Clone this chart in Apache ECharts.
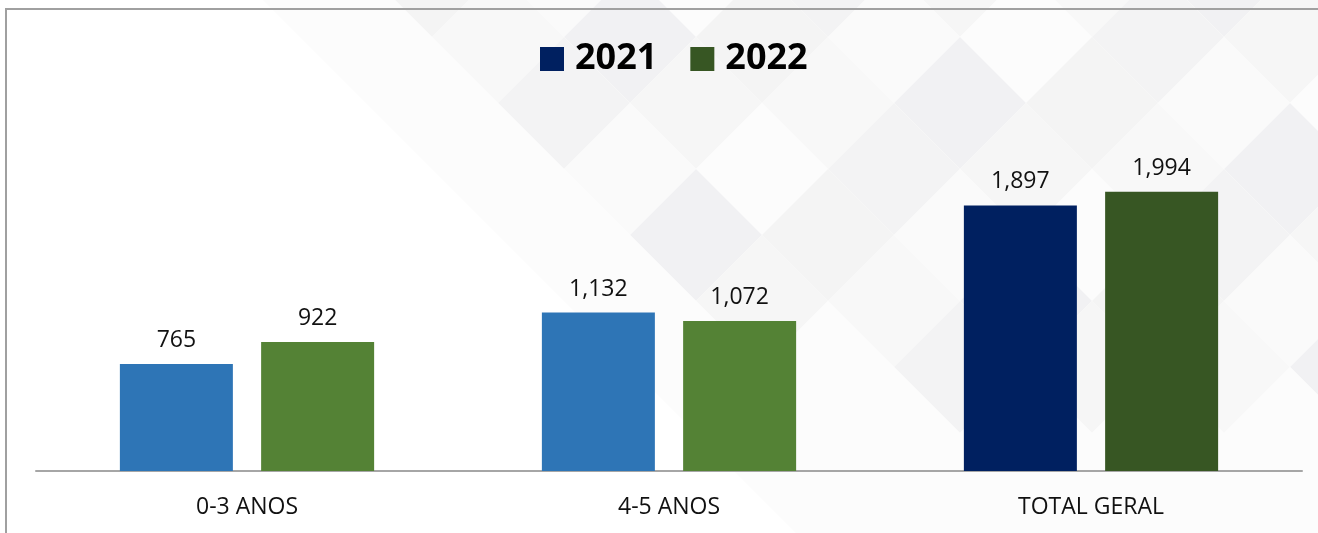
<!DOCTYPE html>
<html><head><meta charset="utf-8">
<script src="https://cdn.jsdelivr.net/npm/echarts@6/dist/echarts.min.js"></script>
<style>html,body{margin:0;padding:0;background:#fff}#c{width:1318px;height:533px}</style>
</head><body><div id="c"></div>
<script>
const categories = ['0-3 ANOS', '4-5 ANOS', 'TOTAL GERAL'];
const seriesNames = ['2021', '2022'];
const values2021 = [765, 1132, 1897];
const values2022 = [922, 1072, 1994];

const colors2021 = ['#2E75B6', '#2E75B6', '#002060'];
const colors2022 = ['#548235', '#548235', '#375623'];
const legendColors = ['#002060', '#375623'];

const FONT = '"Open Sans", "Noto Sans", sans-serif';

// decorative diamond background
const bg = [];
const tones = ['#f8f8f8', '#f3f3f4', '#fafafa', '#f1f1f3', '#f6f6f6', '#fcfcfc', '#f4f4f4'];
const D = 66;
for (let j = -2; j <= 10; j++) {
  for (let i = -14; i <= 10; i++) {
    if ((((i + j) % 2) + 2) % 2) continue;
    const cx = 828 + i * D, cy = 103 + j * D;
    const t = cx - 270 - 0.9 * cy;
    if (t < 0) continue;
    let idx = (((i * 5 + j * 3) % tones.length) + tones.length) % tones.length;
    let fill = (t < 140 || cy > 380) ? '#fcfcfc' : tones[idx];
    bg.push({
      type: 'polygon', silent: true, z: -10,
      shape: { points: [[cx, cy - D], [cx + D, cy], [cx, cy + D], [cx - D, cy]] },
      style: { fill: fill }
    });
  }
}
bg.push({
  type: 'polyline', silent: true, z: 100,
  shape: { points: [[6, 560], [6, 9], [1340, 9]] },
  style: { stroke: '#a0a0a0', lineWidth: 2, fill: null }
});

const chart = echarts.init(document.getElementById('c'), null, { renderer: 'canvas' });
const labelCfg = {
  show: true, position: 'top', distance: 12,
  color: '#111', fontSize: 23, fontFamily: FONT,
  formatter: p => p.value.toLocaleString('en-US')
};
chart.setOption({
  animation: false,
  backgroundColor: '#ffffff',
  graphic: bg,
  legend: {
    data: seriesNames,
    left: 540, top: 41, padding: 0,
    icon: 'rect', itemWidth: 24, itemHeight: 24, itemGap: 33,
    textStyle: { fontSize: 36, fontWeight: 'bold', color: '#000', fontFamily: FONT, padding: [0, 0, 0, 6] }
  },
  grid: { left: 36, right: 16, top: 121, bottom: 62, containLabel: false },
  xAxis: {
    type: 'category', data: categories,
    axisTick: { show: false },
    axisLine: { lineStyle: { color: '#a6a6a6', width: 2 } },
    axisLabel: { fontSize: 23, color: '#111', fontFamily: FONT, margin: 25 }
  },
  yAxis: { type: 'value', min: 0, max: 2500, show: false, splitLine: { show: false } },
  series: [
    {
      name: seriesNames[0], type: 'bar', barWidth: 113, barGap: '25%',
      itemStyle: { color: legendColors[0] },
      data: values2021.map((v, i) => ({ value: v, itemStyle: { color: colors2021[i] } })),
      label: labelCfg
    },
    {
      name: seriesNames[1], type: 'bar', barWidth: 113, barGap: '25%',
      itemStyle: { color: legendColors[1] },
      data: values2022.map((v, i) => ({ value: v, itemStyle: { color: colors2022[i] } })),
      label: labelCfg
    }
  ]
});
</script></body></html>
